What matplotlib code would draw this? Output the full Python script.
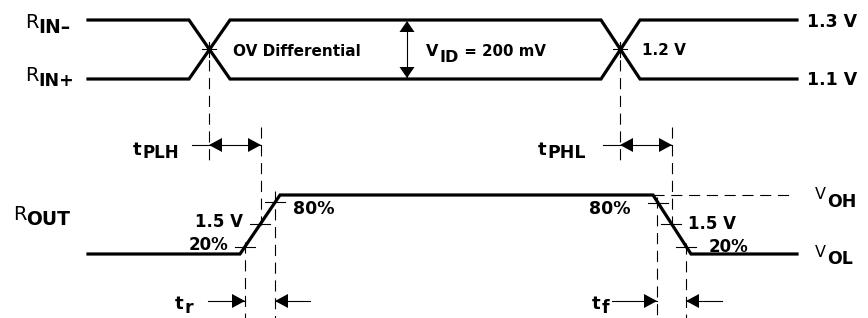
import matplotlib
matplotlib.use("Agg")
import matplotlib.pyplot as plt

plt.rcParams['font.family'] = ['DejaVu Sans']

W, H = 868, 318

# ---- waveform breakpoints (x = time, y = level, pixel units of the diagram) ----
rin_minus_t = [88, 189, 230, 601, 640, 797]
rin_minus_v = [20, 20, 79, 79, 20, 20]
rin_plus_t = [88, 189, 230, 601, 640, 797]
rin_plus_v = [79, 79, 20, 20, 79, 79]
rout_t = [88, 240, 280, 653, 691, 797]
rout_v = [254, 254, 195, 195, 254, 254]

# crossing points of the input pair
cross_t = [209, 620]
cross_v = [49, 49]

# short horizontal marks on the output edges (centre x, y)
mark_t = [245, 260, 275, 658, 671, 686]
mark_v = [247, 224, 202, 203, 224, 247]

# dashed reference lines (x, y_start, y_end)
ref_x = [209, 261, 620, 672, 245, 275, 657, 686]
ref_y0 = [42, 127, 42, 127, 242, 191, 197, 243]
ref_y1 = [162, 225, 162, 225, 318, 318, 318, 318]

# timing intervals: (left, right, y, leader_left, leader_right, outward)
intervals = [
    (209, 261, 145, 192, None, True),
    (620, 672, 145, 603, None, True),
    (245, 275, 301, 208, 310, False),
    (657, 686, 301, 612, 722, False),
]

fig = plt.figure(figsize=(W / 100, H / 100), dpi=100)
ax = fig.add_axes([0, 0, 1, 1])
ax.set_xlim(0, W)
ax.set_ylim(H, 0)
ax.axis('off')

THICK = 2.3
THIN = 0.8
DASH = (0, (10, 6))

ax.plot(rin_minus_t, rin_minus_v, color='black', lw=THICK, solid_joinstyle='miter')
ax.plot(rin_plus_t, rin_plus_v, color='black', lw=THICK, solid_joinstyle='miter')
ax.plot(rout_t, rout_v, color='black', lw=THICK, solid_joinstyle='miter')

# crossing "+" marks
for cx, cy in zip(cross_t, cross_v):
    ax.plot([cx - 7, cx + 7], [cy, cy], color='black', lw=THIN)
    ax.plot([cx, cx], [cy - 7, cy + 8], color='black', lw=THIN)

for mx, my in zip(mark_t, mark_v):
    ax.plot([mx - 10, mx + 10], [my, my], color='black', lw=THIN)

for x, y0, y1 in zip(ref_x, ref_y0, ref_y1):
    ax.plot([x, x], [y0, y1], color='black', lw=THIN, linestyle=DASH)

# VOH dashed level
ax.plot([653, 790], [195, 195], color='black', lw=THIN, linestyle=DASH)


def head(tip_x, tip_y, direction, length=13, half=7):
    if direction in (1, -1):
        bx = tip_x - direction * length
        ax.fill([tip_x, bx, bx], [tip_y, tip_y - half, tip_y + half],
                color='black', lw=0)
    else:
        s = -1 if direction == 'u' else 1
        by = tip_y - s * length
        ax.fill([tip_x, tip_x - half, tip_x + half], [tip_y, by, by],
                color='black', lw=0)


for l, r, y, lead_l, lead_r, outward in intervals:
    if outward:
        ax.plot([lead_l, r], [y, y], color='black', lw=THIN)
        head(l, y, -1)
        head(r, y, 1)
    else:
        ax.plot([lead_l, l], [y, y], color='black', lw=THIN)
        ax.plot([r, lead_r], [y, y], color='black', lw=THIN)
        head(l, y, 1)
        head(r, y, -1)

# VID double arrow
ax.plot([407, 407], [22, 77], color='black', lw=THIN)
head(407, 21, 'u', length=11, half=7.5)
head(407, 78, 'd', length=11, half=7.5)

renderer = fig.canvas.get_renderer()
inv = ax.transData.inverted()


def put(x, y, s, size=12.5, weight='bold', ha='left'):
    t = ax.text(x, y, s, fontsize=size, fontweight=weight, ha=ha, va='baseline')
    bb = t.get_window_extent(renderer=renderer)
    return inv.transform((bb.x1, bb.y0))[0]


def subtext(x, y, main, sub, dy, size=13, sub_size=13, main_weight='bold',
            tail=None, tail_size=None, gap=1):
    x1 = put(x, y, main, size=size, weight=main_weight) + gap
    x2 = put(x1, y + dy, sub, size=sub_size)
    if tail:
        put(x2, y, tail, size=tail_size or size)


# signal names
subtext(25, 28, "R", "IN\u2013", 5, size=14, sub_size=13.5, main_weight='normal', gap=0)
subtext(25, 81, "R", "IN+", 5, size=14, sub_size=12.5, main_weight='normal', gap=0)
subtext(13, 220, "R", "OUT", 5, size=14, sub_size=13.5, main_weight='normal', gap=0)

# level labels
put(807, 27, "1.3 V", size=12.5)
put(807, 85, "1.1 V", size=12.5)
subtext(815, 199, "V", "OH", 8, size=11.5, sub_size=12.5, main_weight='normal')
subtext(815, 257, "V", "OL", 7, size=11.5, sub_size=12.5, main_weight='normal')

# annotations in the input band
put(233, 56, "OV Differential", size=11)
subtext(426, 56, "V", "ID", 6, size=11.5, sub_size=11.5, tail=" = 200 mV",
        tail_size=10.8)
put(642, 55, "1.2 V", size=11)

# edge labels
put(243, 227, "1.5 V", size=12, ha='right')
put(228, 250, "20%", size=12, ha='right')
put(293, 214, "80%", size=12.5)
put(630, 214, "80%", size=12.5, ha='right')
put(688, 229, "1.5 V", size=12)
put(709, 252, "20%", size=12)

# timing labels
subtext(133, 155, "t", "PLH", 3, size=13, sub_size=12)
subtext(538, 155, "t", "PHL", 3, size=13, sub_size=12.5)
subtext(175, 309, "t", "r", 4, size=13, sub_size=12.5)
subtext(592, 309, "t", "f", 4, size=13, sub_size=12.5)

fig.savefig("out.png", dpi=100)
